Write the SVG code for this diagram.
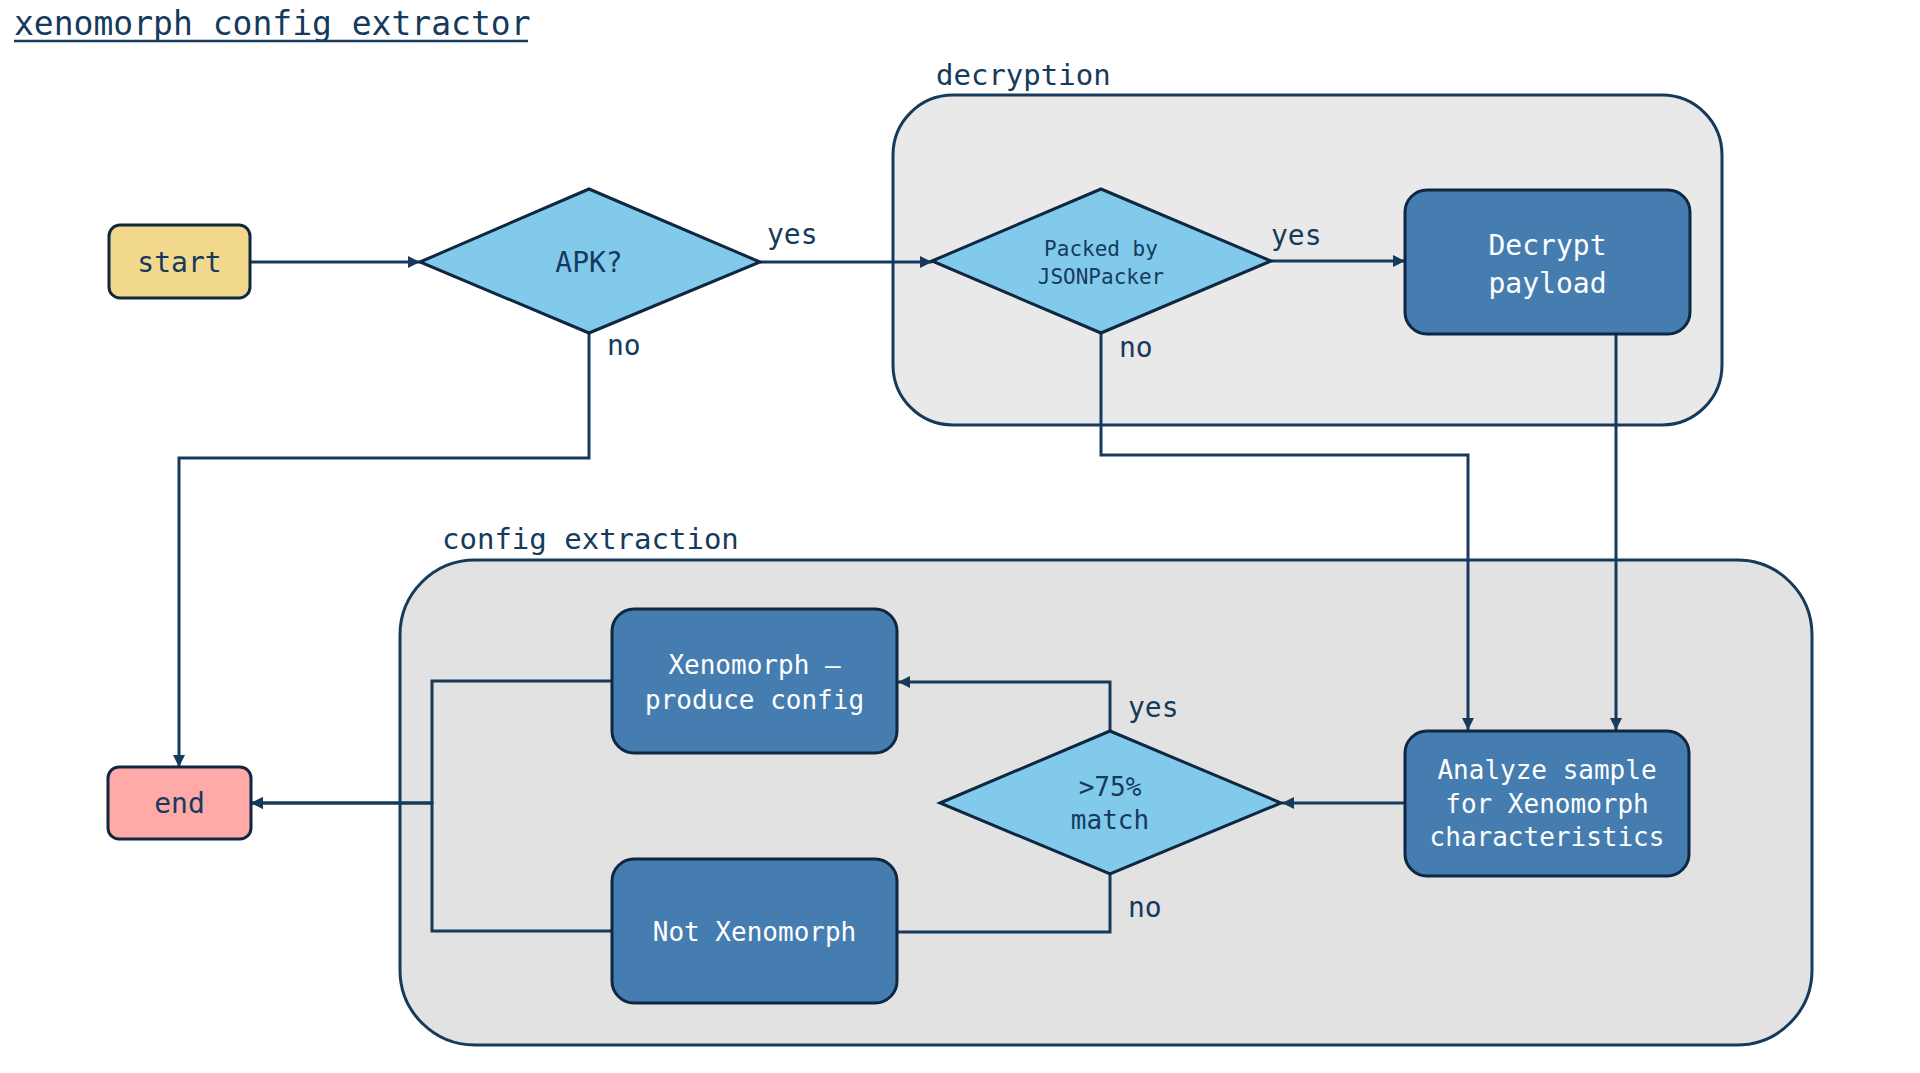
<svg xmlns="http://www.w3.org/2000/svg" width="1920" height="1073" viewBox="0 0 1920 1073">
<style>
text { font-family: "DejaVu Sans Mono", "Liberation Mono", monospace; fill: #163a5c; }
.c { text-anchor: middle; dominant-baseline: central; }
.lbl { font-size: 28px; dominant-baseline: central; }
.grp { font-size: 29px; }
.node { stroke: #0f2740; stroke-width: 3; }
.proc { fill: #457db1; }
.proc-t { fill: #ffffff; font-size: 26px; }
.dia { fill: #82caeb; }
.edge { fill: none; stroke: #163a5c; stroke-width: 3; }
.arr { marker-end: url(#ah); }
</style>
<defs>
<marker id="ah" markerUnits="userSpaceOnUse" markerWidth="14" markerHeight="12" refX="12" refY="6" orient="auto">
<path d="M0,0 L12,6 L0,12 Z" fill="#163a5c"/>
</marker>
</defs>
<rect width="1920" height="1073" fill="#ffffff"/>
<text x="14" y="35" style="font-size:33px">xenomorph config extractor</text>
<line x1="14" y1="41" x2="528" y2="41" stroke="#163a5c" stroke-width="2.5"/>

<g id="group-decryption">
<rect x="893" y="95" width="829" height="330" rx="60" fill="#e9e9e9" stroke="#163a5c" stroke-width="3"/>
<text class="grp" x="936" y="85">decryption</text>
</g>
<g id="group-config-extraction">
<rect x="400" y="560" width="1412" height="485" rx="75" fill="#e2e2e2" stroke="#163a5c" stroke-width="3"/>
<text class="grp" x="442" y="549">config extraction</text>
</g>

<g id="connectors">
<path class="edge arr" d="M250,262 H420"/>
<path class="edge arr" d="M760,262 H932"/>
<path class="edge arr" d="M589,333 V458 H179 V767"/>
<path class="edge arr" d="M1271,261 H1405"/>
<path class="edge arr" d="M1101,333 V455 H1468 V730"/>
<path class="edge arr" d="M1616,335 V730"/>
<path class="edge arr" d="M1405,803 H1282"/>
<path class="edge arr" d="M1110,731 V682 H898"/>
<path class="edge" d="M1110,874 V932 H897"/>
<path class="edge arr" d="M612,681 H432 V803 H251"/>
<path class="edge arr" d="M612,931 H432 V803 H251"/>
<text class="lbl" x="767" y="234">yes</text>
<text class="lbl" x="607" y="345">no</text>
<text class="lbl" x="1271" y="235">yes</text>
<text class="lbl" x="1119" y="347">no</text>
<text class="lbl" x="1128" y="707">yes</text>
<text class="lbl" x="1128" y="907">no</text>
</g>

<g id="start">
<rect class="node" x="109" y="225" width="141" height="73" rx="11" fill="#f2d88d"/>
<text class="c" x="179.5" y="262" style="font-size:28px">start</text>
</g>
<g id="apk">
<polygon class="node dia" points="420,262 589,189 760,262 589,333"/>
<text class="c" x="589" y="262" style="font-size:28px">APK?</text>
</g>
<g id="packed">
<polygon class="node dia" points="932,261 1101,189 1271,261 1101,333"/>
<text class="c" x="1101" y="249" style="font-size:21px">Packed by</text>
<text class="c" x="1101" y="277" style="font-size:21px">JSONPacker</text>
</g>
<g id="decrypt">
<rect class="node proc" x="1405" y="190" width="285" height="144" rx="22"/>
<text class="c proc-t" x="1547.5" y="245" style="font-size:28px">Decrypt</text>
<text class="c proc-t" x="1547.5" y="283" style="font-size:28px">payload</text>
</g>
<g id="analyze">
<rect class="node proc" x="1405" y="731" width="284" height="145" rx="22"/>
<text class="c proc-t" x="1547" y="770">Analyze sample</text>
<text class="c proc-t" x="1547" y="804">for Xenomorph</text>
<text class="c proc-t" x="1547" y="837">characteristics</text>
</g>
<g id="match">
<polygon class="node dia" points="940,803 1110,731 1281,803 1110,874"/>
<text class="c" x="1110" y="787" style="font-size:26px">&gt;75%</text>
<text class="c" x="1110" y="820" style="font-size:26px">match</text>
</g>
<g id="xeno-config">
<rect class="node proc" x="612" y="609" width="285" height="144" rx="22"/>
<text class="c proc-t" x="754.5" y="665">Xenomorph –</text>
<text class="c proc-t" x="754.5" y="700">produce config</text>
</g>
<g id="not-xeno">
<rect class="node proc" x="612" y="859" width="285" height="144" rx="22"/>
<text class="c proc-t" x="754.5" y="932">Not Xenomorph</text>
</g>
<g id="end">
<rect class="node" x="108" y="767" width="143" height="72" rx="11" fill="#ffa9a9"/>
<text class="c" x="179.5" y="803" style="font-size:28px">end</text>
</g>
</svg>
